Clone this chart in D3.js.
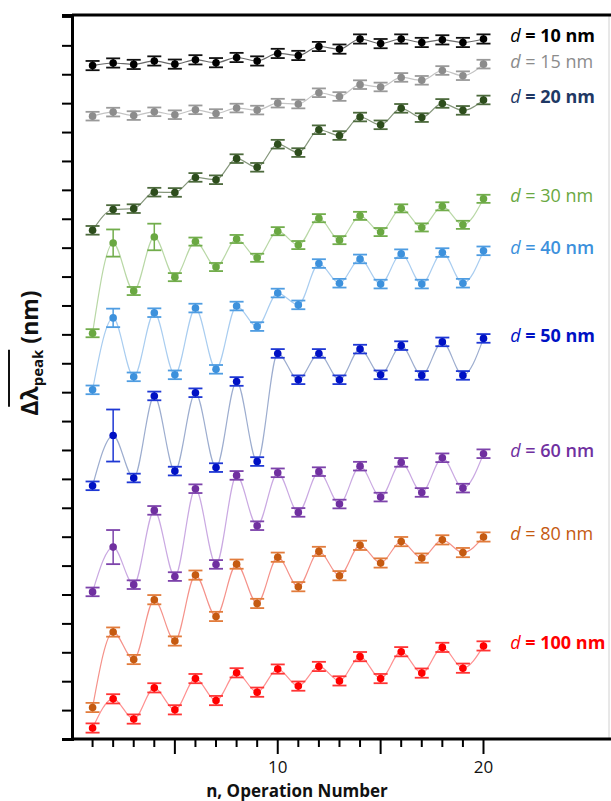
<!DOCTYPE html>
<meta charset="utf-8">
<script src="https://d3js.org/d3.v7.min.js"></script>
<style>
  body { margin: 0; background: #fff; }
</style>
<div id="chart"></div>
<script>
// operation number
var opNumber = [1, 2, 3, 4, 5, 6, 7, 8, 9, 10, 11, 12, 13, 14, 15, 16, 17, 18, 19, 20];

// mean peak shift for every thickness d (offset stacked, in tick units)
var d10 = [22.30, 22.39, 22.34, 22.46, 22.35, 22.50, 22.40, 22.58, 22.46, 22.72, 22.65, 22.96, 22.87, 23.22, 23.06, 23.22, 23.10, 23.19, 23.10, 23.22];
var d15 = [20.55, 20.69, 20.57, 20.70, 20.60, 20.77, 20.64, 20.83, 20.76, 21.00, 20.97, 21.36, 21.23, 21.64, 21.56, 21.89, 21.79, 22.13, 21.95, 22.35];
var d20 = [16.60, 17.32, 17.35, 17.92, 17.91, 18.43, 18.35, 19.08, 18.78, 19.58, 19.29, 20.08, 19.88, 20.52, 20.25, 20.82, 20.50, 20.99, 20.75, 21.11];
var d30 = [13.04, 16.16, 14.50, 16.37, 14.98, 16.21, 15.33, 16.30, 15.65, 16.57, 16.09, 17.02, 16.26, 17.10, 16.54, 17.36, 16.70, 17.43, 16.79, 17.69];
var d40 = [11.08, 13.57, 11.53, 13.75, 11.60, 13.91, 11.79, 13.98, 13.27, 14.43, 14.02, 15.45, 14.77, 15.61, 14.74, 15.79, 14.74, 15.83, 14.77, 15.89];
var d50 = [7.76, 9.50, 8.03, 10.87, 8.27, 10.98, 8.39, 11.37, 8.60, 12.34, 11.43, 12.34, 11.43, 12.49, 11.60, 12.61, 11.58, 12.74, 11.58, 12.86];
var d60 = [4.09, 5.64, 4.34, 6.91, 4.62, 7.66, 5.04, 8.12, 6.38, 8.21, 6.84, 8.25, 7.13, 8.44, 7.37, 8.57, 7.53, 8.73, 7.68, 8.87];
var d80 = [0.09, 2.70, 1.75, 3.82, 2.39, 4.67, 3.24, 5.05, 3.69, 5.29, 4.27, 5.49, 4.65, 5.70, 5.09, 5.83, 5.26, 5.89, 5.45, 5.99];
var d100 = [-0.62, 0.39, -0.31, 0.77, 0.01, 1.09, 0.33, 1.29, 0.62, 1.42, 0.83, 1.51, 1.01, 1.85, 1.09, 2.02, 1.28, 2.17, 1.45, 2.22];

// error bars (half width)
var err10 = [0.16, 0.16, 0.16, 0.16, 0.16, 0.16, 0.16, 0.16, 0.16, 0.16, 0.16, 0.16, 0.16, 0.16, 0.16, 0.16, 0.16, 0.16, 0.16, 0.16];
var err15 = [0.15, 0.15, 0.15, 0.15, 0.15, 0.15, 0.15, 0.15, 0.15, 0.15, 0.15, 0.15, 0.15, 0.15, 0.15, 0.15, 0.15, 0.15, 0.15, 0.15];
var err20 = [0.15, 0.15, 0.15, 0.15, 0.15, 0.15, 0.15, 0.15, 0.15, 0.15, 0.15, 0.15, 0.15, 0.15, 0.15, 0.15, 0.15, 0.15, 0.15, 0.15];
var err30 = [0.14, 0.47, 0.14, 0.46, 0.14, 0.14, 0.14, 0.14, 0.14, 0.14, 0.14, 0.14, 0.14, 0.14, 0.14, 0.14, 0.14, 0.14, 0.14, 0.14];
var err40 = [0.15, 0.32, 0.15, 0.15, 0.15, 0.15, 0.15, 0.15, 0.15, 0.15, 0.15, 0.15, 0.15, 0.15, 0.15, 0.15, 0.15, 0.15, 0.15, 0.15];
var err50 = [0.15, 0.90, 0.15, 0.15, 0.15, 0.15, 0.15, 0.15, 0.15, 0.15, 0.15, 0.15, 0.15, 0.15, 0.15, 0.15, 0.15, 0.15, 0.15, 0.15];
var err60 = [0.15, 0.59, 0.15, 0.15, 0.15, 0.15, 0.15, 0.15, 0.15, 0.15, 0.15, 0.15, 0.15, 0.15, 0.15, 0.15, 0.15, 0.15, 0.15, 0.15];
var err80 = [0.16, 0.16, 0.16, 0.16, 0.16, 0.16, 0.16, 0.16, 0.16, 0.16, 0.16, 0.16, 0.16, 0.16, 0.16, 0.16, 0.16, 0.16, 0.16, 0.16];
var err100 = [0.16, 0.16, 0.16, 0.16, 0.16, 0.16, 0.16, 0.16, 0.16, 0.16, 0.16, 0.16, 0.16, 0.16, 0.16, 0.16, 0.16, 0.16, 0.16, 0.16];

var thickness = [10, 15, 20, 30, 40, 50, 60, 80, 100];
var xLabels = [10, 20];

// styles
var series = [
  { d: 10, v: d10, e: err10, dot: "#000000", bar: "#111111", line: "#6a6a6a", label: "#000000", w: 700 },
  { d: 15, v: d15, e: err15, dot: "#8c8c8c", bar: "#9a9a9a", line: "#c4c4c4", label: "#8c8c8c", w: 400 },
  { d: 20, v: d20, e: err20, dot: "#2d4d1c", bar: "#4d6a3d", line: "#86977c", label: "#1f3864", w: 700 },
  { d: 30, v: d30, e: err30, dot: "#6aa842", bar: "#72ad4c", line: "#b9d8a6", label: "#6aa842", w: 400 },
  { d: 40, v: d40, e: err40, dot: "#3d91dc", bar: "#4f9de2", line: "#a9cdf0", label: "#3d91dc", w: 600 },
  { d: 50, v: d50, e: err50, dot: "#0011c4", bar: "#1f38d4", line: "#9dadcf", label: "#0011c4", w: 700 },
  { d: 60, v: d60, e: err60, dot: "#7030a0", bar: "#7d43ab", line: "#caa9e2", label: "#7030a0", w: 600 },
  { d: 80, v: d80, e: err80, dot: "#c55a11", bar: "#e27c3c", line: "#f5928a", label: "#c55a11", w: 400 },
  { d: 100, v: d100, e: err100, dot: "#ff0000", bar: "#ff3535", line: "#ff9090", label: "#ff0000", w: 700 }
];

var width = 611, height = 801;
var svg = d3.select("#chart").append("svg")
  .attr("width", width)
  .attr("height", height)
  .style("font-family", "'Open Sans', sans-serif");

var x = d3.scaleLinear().domain([0, 26.1]).range([72, 609]);
var y = d3.scaleLinear().domain([-1, 24.05]).range([739, 15]);

// frame: thin right border, thick top
svg.append("line")
  .attr("x1", 609).attr("x2", 609).attr("y1", 15).attr("y2", 739)
  .attr("stroke", "#d0d0d0").attr("stroke-width", 1);
svg.append("line")
  .attr("x1", 72).attr("x2", 611).attr("y1", 15).attr("y2", 15)
  .attr("stroke", "#000").attr("stroke-width", 3);

// x axis
var xAxis = svg.append("g")
  .attr("transform", "translate(0,739)");
xAxis.append("line")
  .attr("x1", 71).attr("x2", 611).attr("y1", 0).attr("y2", 0)
  .attr("stroke", "#000").attr("stroke-width", 3);
xAxis.selectAll(".xt")
  .data(opNumber)
  .enter()
  .append("line")
  .attr("x1", function(d) { return x(d); })
  .attr("x2", function(d) { return x(d); })
  .attr("y1", 0)
  .attr("y2", function(d) { return d % 5 == 0 ? 15 : 8; })
  .attr("stroke", "#000").attr("stroke-width", 2);
xAxis.selectAll(".xl")
  .data(xLabels)
  .enter()
  .append("text")
  .attr("x", function(d) { return x(d); })
  .attr("y", 34)
  .attr("text-anchor", "middle")
  .attr("font-size", 17)
  .attr("fill", "#111")
  .text(function(d) { return d; });

svg.append("text")
  .attr("x", 297)
  .attr("y", 797)
  .attr("text-anchor", "middle")
  .attr("font-size", 17)
  .attr("font-weight", "bold")
  .attr("fill", "#111")
  .text("n, Operation Number");

// y axis: ticks only
var yAxis = svg.append("g")
  .attr("transform", "translate(72,0)")
  .call(d3.axisLeft(y).tickValues(d3.range(0, 25)).tickSize(10).tickFormat(""));
yAxis.select(".domain").attr("stroke-width", 3);
yAxis.selectAll(".tick line").attr("stroke-width", 2);

// y axis title with overline
var yt = svg.append("g").attr("transform", "translate(38,353) rotate(-90)");
var ytext = yt.append("text")
  .attr("font-weight", "bold")
  .attr("font-size", 23)
  .attr("fill", "#111");
ytext.append("tspan").text("Δλ");
ytext.append("tspan").attr("font-size", 15).attr("dy", 5).text("peak");
ytext.append("tspan").attr("dy", -5).text(" (nm)");
var total = ytext.node().getComputedTextLength();
var sub = ytext.node().getSubStringLength(0, 6);
ytext.attr("x", -total / 2);
yt.append("line")
  .attr("x1", -total / 2 + 9).attr("x2", -total / 2 + sub)
  .attr("y1", -29).attr("y2", -29)
  .attr("stroke", "#111").attr("stroke-width", 2);

// series
var line = d3.line()
  .x(function(d, i) { return x(opNumber[i]); })
  .y(function(d) { return y(d); })
  .curve(d3.curveMonotoneX);

series.forEach(function(s) {
  var g = svg.append("g");
  g.append("path")
    .attr("d", line(s.v))
    .attr("fill", "none")
    .attr("stroke", s.line)
    .attr("stroke-width", 1.2);

  var bars = g.selectAll(".eb")
    .data(s.v)
    .enter()
    .append("g");
  bars.append("line")
    .attr("x1", function(d, i) { return x(opNumber[i]); })
    .attr("x2", function(d, i) { return x(opNumber[i]); })
    .attr("y1", function(d, i) { return y(d + s.e[i]); })
    .attr("y2", function(d, i) { return y(d - s.e[i]); })
    .attr("stroke", s.bar).attr("stroke-width", 1.5);
  [1, -1].forEach(function(sign) {
    bars.append("line")
      .attr("x1", function(d, i) { return x(opNumber[i]) - 7; })
      .attr("x2", function(d, i) { return x(opNumber[i]) + 7; })
      .attr("y1", function(d, i) { return y(d + sign * s.e[i]); })
      .attr("y2", function(d, i) { return y(d + sign * s.e[i]); })
      .attr("stroke", s.bar).attr("stroke-width", 1.8);
  });

  g.selectAll(".pt")
    .data(s.v)
    .enter()
    .append("circle")
    .attr("cx", function(d, i) { return x(opNumber[i]); })
    .attr("cy", function(d) { return y(d); })
    .attr("r", 3.8)
    .attr("fill", s.dot);

  var lab = svg.append("text")
    .attr("x", x(21.3))
    .attr("y", y(s.v[s.v.length - 1] + 0.1))
    .attr("dy", "0.35em")
    .attr("font-size", 18)
    .attr("fill", s.label);
  lab.append("tspan").attr("font-style", "italic").attr("font-weight", 400).text("d");
  lab.append("tspan").attr("font-weight", s.w).text(" = " + s.d + " nm");
});
</script>
